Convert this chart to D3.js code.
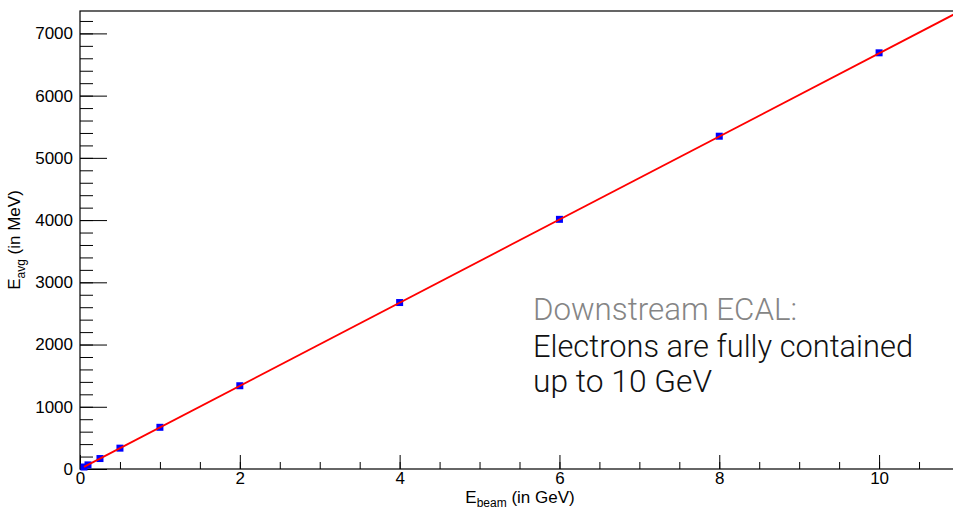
<!DOCTYPE html>
<html>
<head>
<meta charset="utf-8">
<script src="https://cdn.jsdelivr.net/npm/d3@7"></script>
<style>
body { margin:0; background:#fff; }
svg text { font-family: "Liberation Sans", Arial, sans-serif; }
</style>
</head>
<body>
<svg width="953" height="509"></svg>
<script>
var width = 953, height = 509;

// beam energy (GeV) and average deposited energy (MeV)
var eBeam = [0.05, 0.1, 0.25, 0.5, 1, 2, 4, 6, 8, 10];
var eAvg  = [32, 66, 168, 335, 670, 1338, 2675, 4012, 5348, 6688];
// linear fit parameters: [intercept, slope]
var fitPar = [0, 668];
var xMajor = [0, 2, 4, 6, 8, 10];
var yMajor = [0, 1000, 2000, 3000, 4000, 5000, 6000, 7000];
var noteLines = ["Downstream ECAL:", "Electrons are fully contained", "up to 10 GeV"];

var svg = d3.select('svg');

var x = d3.scaleLinear().domain([0, 11]).range([80, 959]);
var y = d3.scaleLinear().domain([0, 7360]).range([469, 11]);

// frame
svg.append('rect')
  .attr('x', 80).attr('y', 11)
  .attr('width', 879).attr('height', 458)
  .attr('fill', 'none').attr('stroke', '#000').attr('stroke-width', 1.2);

// minor ticks
svg.append('g')
  .attr('transform', 'translate(0,469)')
  .call(d3.axisBottom(x).tickValues(d3.range(0, 11.01, 0.5)).tickSize(-7).tickFormat(''))
  .call(function(g) { g.select('.domain').remove(); });

svg.append('g')
  .attr('transform', 'translate(80,0)')
  .call(d3.axisLeft(y).tickValues(d3.range(0, 7360, 200)).tickSize(-13).tickFormat(''))
  .call(function(g) { g.select('.domain').remove(); });

// major ticks + labels
var xAxis = svg.append('g')
  .attr('transform', 'translate(0,469)')
  .call(d3.axisBottom(x).tickValues(xMajor).tickSize(-14).tickPadding(3).tickFormat(d3.format('d')));
xAxis.select('.domain').remove();
xAxis.selectAll('text').attr('font-size', 17).attr('fill', '#000');

var yAxis = svg.append('g')
  .attr('transform', 'translate(80,0)')
  .call(d3.axisLeft(y).tickValues(yMajor).tickSize(-27).tickPadding(7).tickFormat(d3.format('d')));
yAxis.select('.domain').remove();
yAxis.selectAll('text').attr('font-size', 17).attr('fill', '#000');

svg.selectAll('.tick line').attr('stroke', '#000');

// fit line
var fitX = [eBeam[0], 11];
svg.append('clipPath').attr('id', 'plotclip')
  .append('rect').attr('x', 80).attr('y', 11).attr('width', 879).attr('height', 458);

var fitLine = d3.line()
  .x(function(d) { return x(d); })
  .y(function(d) { return y(fitPar[0] + fitPar[1] * d); });

// data points
var pts = eBeam.map(function(d, i) { return [d, eAvg[i]]; });
svg.selectAll('rect.pt')
  .data(pts)
  .enter()
  .append('rect')
  .attr('class', 'pt')
  .attr('x', function(d) { return x(d[0]) - 3.5; })
  .attr('y', function(d) { return y(d[1]) - 3.5; })
  .attr('width', 7).attr('height', 7)
  .attr('fill', '#0000ff');

// fit drawn over markers like ROOT does
svg.append('path')
  .datum(fitX)
  .attr('clip-path', 'url(#plotclip)')
  .attr('d', fitLine)
  .attr('fill', 'none')
  .attr('stroke', '#ff0000')
  .attr('stroke-width', 1.8);

// axis titles
var xt = svg.append('text')
  .attr('x', 520).attr('y', 503)
  .attr('text-anchor', 'middle')
  .attr('font-size', 17);
xt.append('tspan').text('E');
xt.append('tspan').attr('dy', 4).attr('font-size', 12).text('beam');
xt.append('tspan').attr('dy', -4).text(' (in GeV)');

var yt = svg.append('text')
  .attr('transform', 'translate(20,240) rotate(-90)')
  .attr('text-anchor', 'middle')
  .attr('font-size', 17);
yt.append('tspan').text('E');
yt.append('tspan').attr('dy', 5).attr('font-size', 12).text('avg');
yt.append('tspan').attr('dy', -5).text(' (in MeV)');

// annotation
var noteY = [320, 357, 392];
var noteW = [264, 380, 179];
svg.selectAll('text.note')
  .data(noteLines)
  .enter()
  .append('text')
  .attr('class', 'note')
  .attr('x', 533)
  .attr('y', function(d, i) { return noteY[i]; })
  .attr('font-size', 32)
  .attr('font-weight', 300)
  .style('font-family', 'Roboto, "Liberation Sans", sans-serif')
  .attr('textLength', function(d, i) { return noteW[i]; })
  .attr('lengthAdjust', 'spacingAndGlyphs')
  .attr('fill', function(d, i) { return i == 0 ? '#858585' : '#111'; })
  .text(function(d) { return d; });
</script>
</body>
</html>
